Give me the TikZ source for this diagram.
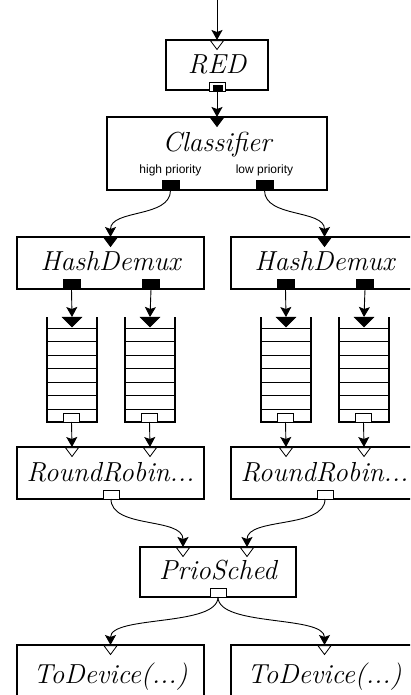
\documentclass[tikz,border=0pt]{standalone}
\usepackage{fontspec}
\newfontfamily\labelfont{Liberation Sans}
\usetikzlibrary{arrows.meta}
\newcommand\inport[3]{\draw[line width=0.8pt, fill=#3, line join=miter] (#1-6.5,#2+0.8) -- (#1+6.5,#2+0.8) -- (#1,#2+9.5) -- cycle;}
\begin{document}
\begin{tikzpicture}[x=1pt,y=-1pt,
  box/.style={draw, line width=2.3pt, inner sep=0pt, outer sep=0pt},
  elname/.style={anchor=base, inner sep=0pt, font=\fontsize{27.5}{31}\selectfont\itshape},
  portlbl/.style={anchor=base, inner sep=0pt, font=\labelfont\fontsize{12}{14}\selectfont},
  conn/.style={line width=0.9pt, -{Stealth[length=10pt,width=11pt,inset=2pt]}},
  pushout/.style={draw, fill=black, line width=0.6pt, minimum width=17pt, minimum height=9.5pt, inner sep=0pt, outer sep=0pt},
  pullout/.style={draw, fill=white, line width=0.8pt, minimum width=16pt, minimum height=9pt, inner sep=0pt, outer sep=0pt},
  queue/.style={inner sep=0pt, outer sep=0pt, minimum width=50pt, minimum height=105pt},
  qside/.style={line width=2pt},
  qline/.style={line width=0.9pt}
]
\useasboundingbox (0,0) rectangle (410,695);
\clip (0,0) rectangle (410,695);

% ---------- boxes ----------
\node[box, minimum width=102pt, minimum height=50pt] (red) at (217,65) {};
\node[elname] (redT) at (217,74) {RED};

\node[box, minimum width=220pt, minimum height=73pt] (cls) at (217,153.5) {};
\node[elname] (clsT) at (217,152) {Classifier};
\node[portlbl] (clsHi) at (170.5,174) {high priority};
\node[portlbl] (clsLo) at (264.5,174) {low priority};

\node[box, minimum width=187pt, minimum height=52pt] (hdL) at (110.5,263) {};
\node[elname] (hdLT) at (110.5,270.5) {HashDemux};
\node[box, minimum width=187pt, minimum height=52pt] (hdR) at (324.5,263) {};
\node[elname] (hdRT) at (324.5,270.5) {HashDemux};

\node[box, minimum width=187pt, minimum height=52pt] (rrL) at (110.5,473) {};
\node[elname] (rrLT) at (110.5,481) {RoundRobin...};
\node[box, minimum width=187pt, minimum height=52pt] (rrR) at (324.5,473) {};
\node[elname] (rrRT) at (324.5,481) {RoundRobin...};

\node[box, minimum width=156pt, minimum height=50pt] (ps) at (218,572) {};
\node[elname] (psT) at (218,579) {PrioSched};

\node[box, minimum width=187pt, minimum height=52pt] (tdL) at (110.5,671) {};
\node[elname] (tdLT) at (110.5,683) {ToDevice(...)};
\node[box, minimum width=187pt, minimum height=52pt] (tdR) at (324.5,671) {};
\node[elname] (tdRT) at (324.5,683) {ToDevice(...)};

% ---------- queues ----------
\foreach \n/\x in {qL0/72, qL1/150, qR0/286, qR1/364} {
  \node[queue] (\n) at (\x,369.5) {};
  \draw[qside] (\n.north west) -- (\n.south west) -- (\n.south east) -- (\n.north east);
  \foreach \k in {0,...,6} {
    \draw[qline] (\x-25,328+13.5*\k) -- (\x+25,328+13.5*\k);
  }
  \draw[fill=black] (\x-10,317) -- (\x+10,317) -- (\x,327) -- cycle;
  \node[pullout] (\n-o) at (\x-0.5,417.5) {};
}

% ---------- ports ----------
\inport{217}{40}{white}
\node[pullout] (redO) at (217,86.5) {};
\fill[black] (212.5,85) rectangle (222.5,91);

\inport{217}{117}{black}
\node[pushout] (clsO0) at (170.5,185.5) {};
\node[pushout] (clsO1) at (264.5,185.5) {};

\inport{110.5}{237}{black}
\node[pushout] (hdLO0) at (71.5,284.5) {};
\node[pushout] (hdLO1) at (151,284.5) {};
\inport{324.5}{237}{black}
\node[pushout] (hdRO0) at (285.5,284.5) {};
\node[pushout] (hdRO1) at (365,284.5) {};

\inport{72}{447}{white}
\inport{150}{447}{white}
\node[pullout] (rrLO) at (111,494.5) {};
\inport{286}{447}{white}
\inport{364}{447}{white}
\node[pullout] (rrRO) at (325,494.5) {};

\inport{183}{547}{white}
\inport{247}{547}{white}
\node[pullout] (psO) at (218,592.5) {};

\inport{110.5}{645}{white}
\inport{324.5}{645}{white}

% ---------- coordinates ----------
\coordinate (src) at (217,0);
\coordinate (rrLI0) at (72,447);
\coordinate (rrLI1) at (150,447);
\coordinate (rrRI0) at (286,447);
\coordinate (rrRI1) at (364,447);
\coordinate (psI0) at (183,547);
\coordinate (psI1) at (247,547);

% ---------- connectors ----------
\draw[conn] (src) -- (red.north);
\draw[conn] (redO.south) -- (cls.north);
\draw[conn] (clsO0.south) .. controls +(0,28) and +(0,-28) .. (hdL.north);
\draw[conn] (clsO1.south) .. controls +(0,28) and +(0,-28) .. (hdR.north);

\draw[conn] (hdLO0.south) -- (qL0.north);
\draw[conn] (hdLO1.south) -- (qL1.north);
\draw[conn] (hdRO0.south) -- (qR0.north);
\draw[conn] (hdRO1.south) -- (qR1.north);

\draw[conn] (qL0-o.south) -- (rrLI0);
\draw[conn] (qL1-o.south) -- (rrLI1);
\draw[conn] (qR0-o.south) -- (rrRI0);
\draw[conn] (qR1-o.south) -- (rrRI1);

\draw[conn] (rrLO.south) .. controls +(0,30) and +(0,-30) .. (psI0);
\draw[conn] (rrRO.south) .. controls +(0,30) and +(0,-30) .. (psI1);

\draw[conn] (psO.south) .. controls +(0,30) and +(0,-30) .. (tdL.north);
\draw[conn] (psO.south) .. controls +(0,30) and +(0,-30) .. (tdR.north);
\end{tikzpicture}
\end{document}
